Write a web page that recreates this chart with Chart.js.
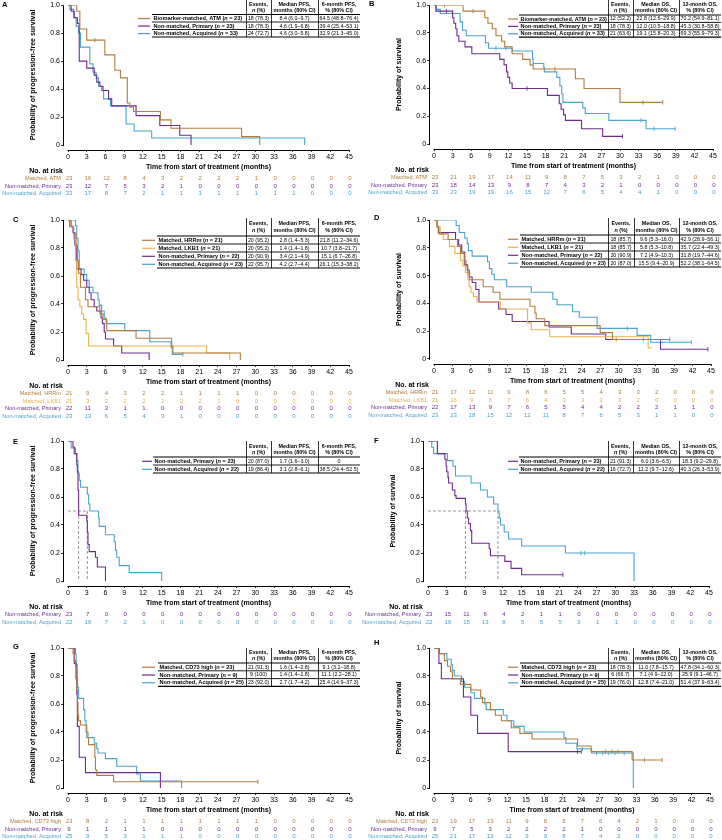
<!DOCTYPE html>
<html><head><meta charset="utf-8">
<script src="https://cdn.jsdelivr.net/npm/chart.js@4.4.1/dist/chart.umd.min.js"></script>
<style>
html,body{margin:0;padding:0;background:#fff;}
body{width:722px;height:840px;position:relative;overflow:hidden;}
canvas{position:absolute;}
</style></head><body>
<script>
const FONT = "'Liberation Sans', Arial, Helvetica, sans-serif";
const COL_MATCH = '#b07d3e';
const COL_LKB1 = '#e9b24c';
const COL_PRI = '#6b2c8f';
const COL_ACQ = '#4aa3cb';
const COL_MED = '#8a8a8a';

const monthTicks = [0,3,6,9,12,15,18,21,24,27,30,33,36,39,42,45];
const probTicks = [0,0.2,0.4,0.6,0.8,1.0];

// ---------- Panel A (PFS, ATM) ----------
const A_atm_t = [0,1.4,1.9,3.0,5.9,7.5,8.4,9.5,9.9,10.5,14.8,16.5,27.8,30.7];
const A_atm_s = [1,0.957,0.83,0.75,0.645,0.535,0.48,0.30,0.27,0.24,0.18,0.12,0.06,0];
const A_atm_cens = [4.3];
const A_pri_t = [0,0.5,1.0,1.5,1.8,3.0,4.2,4.6,5.1,5.6,6.5,7.0,10.9,14.7,17.9,19.7];
const A_pri_s = [1,0.957,0.91,0.87,0.60,0.55,0.50,0.45,0.42,0.39,0.33,0.28,0.21,0.14,0.07,0];
const A_acq_t = [0,0.3,0.9,1.3,1.7,2.0,3.5,4.0,4.5,4.9,5.4,5.7,6.8,9.3,10.6,13.4,37.9];
const A_acq_s = [1,0.97,0.91,0.85,0.80,0.70,0.58,0.52,0.48,0.42,0.39,0.33,0.28,0.15,0.10,0.05,0];
const A_names = ['Biomarker-matched, ATM','Non-matched, Primary','Non-matched, Acquired'];
const A_n = [23,23,33];
const A_events = ['18 (78.3)','18 (78.3)','24 (72.7)'];
const A_medTxt = ['8.4 (6.0\u20139.7)','4.6 (1.9\u20136.8)','4.6 (3.0\u20135.8)'];
const A_rateTxt = ['64.5 (48.8\u201376.4)','39.4 (25.4\u201353.1)','32.9 (21.3\u201345.0)'];
const A_riskLabels = ['Matched, ATM','Non-matched, Primary','Non-matched, Acquired'];
const A_risk_atm = [23,16,12,8,4,3,2,2,2,2,1,0,0,0,0,0];
const A_risk_pri = [23,12,7,5,3,2,1,0,0,0,0,0,0,0,0,0];
const A_risk_acq = [33,17,8,7,2,1,1,1,1,1,1,1,1,0,0,0];

// ---------- Panel B (OS, ATM) ----------
const B_atm_t = [0,4.7,8.2,8.7,9.4,10.0,10.9,11.4,12.6,14.3,15.5,16.0,22.8,24.2,30.0,36.9];
const B_atm_s = [1,0.957,0.91,0.87,0.83,0.78,0.74,0.70,0.65,0.61,0.57,0.54,0.47,0.40,0.30,0.30];
const B_atm_cens = [1.7,6.3,19.5,33.7,36.9];
const B_pri_t = [0,0.3,3.0,3.2,3.5,3.7,4.0,5.0,6.1,10.6,11.3,11.7,11.9,12.2,12.6,18.3,20.2,20.5,20.9,21.2,23.8,27.2,30.4];
const B_pri_s = [1,0.957,0.91,0.87,0.83,0.78,0.74,0.70,0.65,0.61,0.57,0.52,0.48,0.44,0.40,0.35,0.29,0.25,0.21,0.17,0.11,0.055,0.055];
const B_pri_cens = [2.0,15.0,30.4];
const B_acq_t = [0,0.4,1.0,4.2,4.6,5.2,8.3,8.8,12.6,15.9,16.0,17.7,17.8,19.8,20.3,20.6,20.8,24.0,24.4,28.2,34.2,38.9];
const B_acq_s = [1,0.97,0.94,0.88,0.82,0.78,0.73,0.69,0.67,0.61,0.58,0.55,0.52,0.48,0.42,0.36,0.30,0.26,0.22,0.17,0.11,0.11];
const B_acq_cens = [10.0,11.6,33.4,35.5,38.9];
const B_names = A_names;
const B_n = [23,23,33];
const B_events = ['12 (52.2)','18 (78.3)','21 (63.6)'];
const B_medTxt = ['22.8 (12.6\u201329.9)','12.0 (10.5\u201318.8)','19.1 (15.8\u201320.3)'];
const B_rateTxt = ['70.2 (54.9\u201381.1)','45.3 (30.8\u201358.8)','69.3 (55.9\u201379.3)'];
const B_riskLabels = A_riskLabels;
const B_risk_atm = [23,21,19,17,14,11,9,8,7,5,3,2,1,0,0,0];
const B_risk_pri = [23,18,14,13,9,8,7,4,3,2,1,0,0,0,0,0];
const B_risk_acq = [33,23,19,19,16,15,12,7,6,5,4,4,1,0,0,0];

// ---------- Panel C (PFS, HRRm / LKB1) ----------
const C_hrr_t = [0,0.5,0.9,1.3,1.5,1.7,2.0,2.8,3.2,5.1,5.6,6.2,10.9,16.6,16.8,27.6];
const C_hrr_s = [1,0.95,0.90,0.81,0.71,0.62,0.52,0.43,0.38,0.33,0.29,0.21,0.155,0.10,0.05,0];
const C_lkb_t = [0,0.5,0.9,1.2,1.4,1.6,1.9,2.2,2.5,2.9,3.3,22.2,25.9];
const C_lkb_s = [1,0.95,0.86,0.71,0.52,0.43,0.38,0.33,0.29,0.19,0.10,0.05,0];
const C_pri_t = [0,0.3,0.8,1.1,1.4,2.1,2.5,3.0,3.4,3.7,4.2,4.6,5.3,5.5,5.8,6.0,7.3,8.6,13.0];
const C_pri_s = [1,0.955,0.91,0.82,0.65,0.61,0.57,0.52,0.48,0.43,0.38,0.35,0.30,0.26,0.20,0.15,0.10,0.05,0];
const C_acq_t = [0,1.2,1.4,1.6,1.8,2.6,3.0,3.4,4.0,4.8,5.0,5.4,5.8,6.1,9.1,13.1,16.5,16.7,18.4];
const C_acq_s = [1,0.96,0.87,0.78,0.65,0.61,0.57,0.52,0.48,0.43,0.39,0.35,0.30,0.26,0.21,0.13,0.09,0.04,0.04];
const C_acq_cens = [18.4];
const C_names = ['Matched, HRRm','Matched, LKB1','Non-matched, Primary','Non-matched, Acquired'];
const C_n = [21,21,22,23];
const C_events = ['20 (95.2)','20 (95.2)','20 (90.9)','22 (95.7)'];
const C_medTxt = ['2.8 (1.4\u20135.3)','1.4 (1.4\u20131.8)','3.4 (2.1\u20134.9)','4.2 (2.7\u20134.4)'];
const C_rateTxt = ['21.8 (11.2\u201334.6)','10.7 (3.8\u201321.7)','15.1 (6.7\u201326.8)','26.1 (15.3\u201338.2)'];
const C_riskLabels = ['Matched, HRRm','Matched, LKB1','Non-matched, Primary','Non-matched, Acquired'];
const C_risk_hrr = [21,9,4,3,2,2,1,1,1,1,0,0,0,0,0,0];
const C_risk_lkb = [21,3,2,2,2,2,2,2,1,0,0,0,0,0,0,0];
const C_risk_pri = [22,11,3,1,1,0,0,0,0,0,0,0,0,0,0,0];
const C_risk_acq = [23,13,6,5,4,3,1,0,0,0,0,0,0,0,0,0];

// ---------- Panel D (OS, HRRm / LKB1) ----------
const D_hrr_t = [0,0.5,0.8,2.3,3.8,4.3,4.9,5.2,5.5,5.8,8.0,9.6,10.7,15.6,16.4,16.6,18.0,27.0,29.0,38.3];
const D_hrr_s = [1,0.95,0.90,0.86,0.81,0.76,0.71,0.67,0.62,0.57,0.52,0.48,0.43,0.38,0.33,0.29,0.24,0.19,0.14,0.14];
const D_hrr_cens = [29.6,34.0,38.3];
const D_lkb_t = [0,0.5,1.0,1.5,2.5,3.4,4.3,4.7,5.1,5.5,5.7,6.0,6.4,7.0,10.8,15.2,15.8,18.8,34.8,35.3];
const D_lkb_s = [1,0.95,0.90,0.86,0.81,0.76,0.71,0.67,0.62,0.57,0.52,0.48,0.45,0.41,0.36,0.26,0.21,0.16,0.08,0.08];
const D_pri_t = [0,0.5,0.7,3.5,4.0,4.5,5.0,5.4,5.7,6.2,6.8,7.3,10.5,11.7,12.7,18.7,22.3,27.9,36.8,44.5];
const D_pri_s = [1,0.955,0.91,0.86,0.82,0.77,0.68,0.64,0.59,0.55,0.50,0.41,0.36,0.32,0.27,0.23,0.18,0.14,0.07,0.07];
const D_pri_cens = [44.5];
const D_acq_t = [0,3.6,4.1,5.0,5.4,5.6,6.2,8.7,9.0,9.4,9.8,11.8,15.8,19.3,20.0,22.5,23.6,26.5,33.0,35.2,41.8];
const D_acq_s = [1,0.96,0.91,0.87,0.83,0.78,0.74,0.70,0.65,0.61,0.57,0.52,0.48,0.43,0.39,0.34,0.30,0.22,0.17,0.12,0.12];
const D_acq_cens = [31.4,41.8];
const D_names = C_names;
const D_n = [21,21,22,23];
const D_events = ['18 (85.7)','18 (85.7)','20 (90.9)','20 (87.0)'];
const D_medTxt = ['9.6 (5.3\u201316.0)','5.8 (5.3\u201310.8)','7.2 (4.9\u201310.3)','15.5 (9.4\u201320.9)'];
const D_rateTxt = ['42.9 (28.9\u201356.1)','35.7 (22.4\u201349.3)','31.8 (19.7\u201344.6)','52.2 (38.1\u201364.5)'];
const D_riskLabels = C_riskLabels;
const D_risk_hrr = [21,17,12,11,9,8,6,5,5,4,3,3,2,0,0,0];
const D_risk_lkb = [21,16,9,8,7,6,4,3,3,3,3,2,0,0,0,0];
const D_risk_pri = [22,17,13,9,7,6,5,5,4,4,2,2,2,1,1,0];
const D_risk_acq = [23,23,18,15,12,12,11,8,7,6,5,3,1,1,0,0];

// ---------- Panel E (PFS, non-matched) ----------
const E_pri_t = [0,0.8,1.0,1.4,1.5,1.6,1.7,3.0,3.1,3.2,3.4,4.4,4.7,6.0];
const E_pri_s = [1,0.957,0.91,0.83,0.78,0.65,0.47,0.43,0.35,0.26,0.21,0.17,0.10,0];
const E_acq_t = [0,0.5,1.2,1.4,1.6,1.8,2.0,3.1,3.3,3.5,4.9,5.0,6.0,7.4,7.6,7.8,8.2,9.8,15.0];
const E_acq_s = [1,0.95,0.91,0.86,0.77,0.72,0.67,0.62,0.55,0.50,0.45,0.39,0.33,0.28,0.22,0.17,0.11,0.06,0];
const E_medians = [1.7,3.1];
const E_names = ['Non-matched, Primary','Non-matched, Acquired'];
const E_n = [23,22];
const E_events = ['20 (87.0)','19 (86.4)'];
const E_medTxt = ['1.7 (1.6\u20133.0)','3.1 (2.8\u20136.1)'];
const E_rateTxt = ['0','38.5 (24.4\u201352.5)'];
const E_riskLabels = ['Non-matched, Primary','Non-matched, Acquired'];
const E_risk_pri = [23,7,0,0,0,0,0,0,0,0,0,0,0,0,0,0];
const E_risk_acq = [22,19,7,2,1,0,0,0,0,0,0,0,0,0,0,0];

// ---------- Panel F (OS, non-matched) ----------
const F_pri_t = [0,1.5,2.7,2.9,3.0,3.2,3.3,3.9,4.3,4.5,6.0,6.1,6.3,6.5,6.8,7.0,9.8,10.0,12.3,13.3,15.0,21.6];
const F_pri_s = [1,0.91,0.87,0.82,0.78,0.74,0.70,0.65,0.61,0.59,0.55,0.50,0.45,0.41,0.36,0.27,0.23,0.18,0.14,0.09,0.045,0.045];
const F_pri_cens = [21.6];
const F_acq_t = [0,0.6,0.9,3.1,4.0,4.4,6.9,8.4,9.5,10.5,11.2,11.4,11.6,12.2,12.9,15.0,22.0,33.0];
const F_acq_s = [1,0.955,0.91,0.86,0.82,0.75,0.70,0.65,0.60,0.55,0.50,0.45,0.40,0.35,0.30,0.25,0.20,0];
const F_acq_cens = [24.5,25.1];
const F_medians = [6.0,11.2];
const F_names = E_names;
const F_n = [23,22];
const F_events = ['21 (91.3)','16 (72.7)'];
const F_medTxt = ['6.0 (3.6\u20136.5)','11.2 (9.7\u201312.6)'];
const F_rateTxt = ['18.3 (9.2\u201329.8)','40.3 (26.3\u201353.9)'];
const F_riskLabels = E_riskLabels;
const F_risk_pri = [23,15,11,6,4,2,1,1,0,0,0,0,0,0,0,0];
const F_risk_acq = [22,19,15,13,8,5,5,5,3,1,1,0,0,0,0,0];

// ---------- Panel G (PFS, CD73 high) ----------
const G_cd_t = [0,0.8,1.0,1.2,1.3,1.4,1.5,1.6,1.7,2.0,3.0,3.2,3.3,4.3,4.4,4.6,7.3,30.4];
const G_cd_s = [1,0.96,0.91,0.87,0.78,0.70,0.61,0.52,0.48,0.45,0.40,0.36,0.31,0.22,0.13,0.09,0.045,0.045];
const G_cd_cens = [30.4];
const G_pri_t = [0,1.0,1.3,1.4,1.5,1.8,2.8,14.8];
const G_pri_s = [1,0.89,0.78,0.67,0.44,0.22,0.11,0];
const G_acq_t = [0,1.2,1.3,1.5,1.7,2.5,2.7,2.9,3.0,4.2,4.6,4.8,6.0,7.8,11.0,11.6,18.2];
const G_acq_s = [1,0.96,0.88,0.72,0.64,0.56,0.48,0.40,0.36,0.32,0.28,0.25,0.21,0.155,0.10,0.05,0];
const G_names = ['Matched, CD73 high','Non-matched, Primary','Non-matched, Acquired'];
const G_n = [23,9,25];
const G_events = ['21 (91.3)','9 (100)','23 (92.0)'];
const G_medTxt = ['1.6 (1.4\u20132.8)','1.4 (1.4\u20131.8)','2.7 (1.7\u20134.2)'];
const G_rateTxt = ['9.1 (3.2\u201318.8)','11.1 (2.2\u201328.1)','25.4 (14.9\u201337.3)'];
const G_riskLabels = ['Matched, CD73 high','Non-matched, Primary','Non-matched, Acquired'];
const G_risk_cd = [23,8,2,1,1,1,1,1,1,1,1,0,0,0,0,0];
const G_risk_pri = [9,1,1,1,1,0,0,0,0,0,0,0,0,0,0,0];
const G_risk_acq = [25,9,5,3,1,1,1,0,0,0,0,0,0,0,0,0];

// ---------- Panel H (OS, CD73 high) ----------
const H_cd_t = [0,0.8,1.7,2.2,2.7,3.0,4.3,6.0,7.6,7.9,9.2,10.0,11.0,12.6,14.0,16.0,23.4,25.6,32.3,37.2];
const H_cd_s = [1,0.96,0.91,0.87,0.83,0.78,0.74,0.70,0.65,0.61,0.56,0.52,0.48,0.43,0.39,0.35,0.30,0.26,0.20,0.20];
const H_cd_cens = [28.0,29.0,30.0,34.3,37.2];
const H_pri_t = [0,0.8,1.2,4.8,6.0,7.1,12.1,24.0];
const H_pri_s = [1,0.89,0.78,0.65,0.52,0.39,0.26,0.26];
const H_pri_cens = [23.4,24.0];
const H_acq_t = [0,0.9,2.1,2.8,3.0,3.3,4.5,5.0,6.0,6.6,8.3,8.5,11.3,11.9,13.0,14.7,21.2,21.5,23.3,25.7,32.5];
const H_acq_s = [1,0.96,0.92,0.88,0.84,0.80,0.76,0.72,0.68,0.64,0.60,0.56,0.52,0.48,0.44,0.40,0.36,0.32,0.28,0.25,0];
const H_acq_cens = [24.2,26.5,27.5,28.5,29.5,31.0];
const H_names = G_names;
const H_n = [23,9,25];
const H_events = ['18 (78.3)','6 (66.7)','19 (76.0)'];
const H_medTxt = ['11.0 (7.8\u201315.7)','7.1 (4.9\u201312.0)','12.8 (7.4\u201321.0)'];
const H_rateTxt = ['47.8 (34.1\u201360.3)','25.9 (9.1\u201346.7)','51.4 (37.9\u201363.4)'];
const H_riskLabels = G_riskLabels;
const H_risk_cd = [23,19,17,13,11,9,8,8,7,6,4,2,1,0,0,0];
const H_risk_pri = [9,7,5,3,2,2,2,2,1,0,0,0,0,0,0,0];
const H_risk_acq = [25,21,17,13,12,9,9,8,7,4,2,0,0,0,0,0];

// ---------- Layout (positions only) ----------
const LAYOUT = {
  A:{left:0,   top:0,   h:205, x0:68, x45:349, y1:5,  y0:145, letter:[2,5],  tb:{sw:[138,150], lab:152, c:[246,271,318,360], top:0,  head:14.5, row:7.5}},
  B:{left:361, top:0,   h:205, x0:73, x45:352, y1:5,  y0:144, letter:[8,4],  tb:{sw:[147,157], lab:158, c:[247,272,318,360], top:0,  head:15,   row:7.4}},
  C:{left:0,   top:205, h:215, x0:68, x45:349, y1:15, y0:155, letter:[13,15],tb:{sw:[142,155], lab:157, c:[246,271,318,360], top:13, head:18,   row:8}},
  D:{left:361, top:205, h:215, x0:73, x45:350, y1:15, y0:154, letter:[13,13],tb:{sw:[147,157], lab:159, c:[247,273,318,360], top:13, head:17,   row:8}},
  E:{left:0,   top:420, h:205, x0:68, x45:349, y1:21, y0:161, letter:[13,22],tb:{sw:[142,152], lab:153, c:[246,271,318,360], top:21, head:16,   row:8}},
  F:{left:361, top:420, h:205, x0:67, x45:348, y1:21, y0:161, letter:[13,21],tb:{sw:[147,157], lab:158, c:[247,272,318,360], top:21, head:16,   row:8}},
  G:{left:0,   top:625, h:215, x0:68, x45:349, y1:23, y0:163, letter:[13,22],tb:{sw:[142,155], lab:158, c:[246,271,318,360], top:23, head:15,   row:7.8}},
  H:{left:361, top:625, h:215, x0:73, x45:349, y1:23, y0:163, letter:[13,18],tb:{sw:[147,157], lab:159, c:[247,272,318,360], top:23, head:15,   row:7.8}}
};

const PFS_HEAD = [['Median PFS,','months (80% CI)'],['6-month PFS,','% (80% CI)']];
const OS_HEAD = [['Median OS,','months (80% CI)'],['12-month OS,','% (80% CI)']];
const Y_PFS = 'Probability of progression-free survival';
const Y_OS = 'Probability of survival';

function ser(t, s, cens, color){ return {t:t, s:s, cens:cens, color:color}; }

const PANELS = [
  {id:'A', yTitle:Y_PFS, head:PFS_HEAD, series:[ser(A_atm_t,A_atm_s,A_atm_cens,COL_MATCH),ser(A_pri_t,A_pri_s,[],COL_PRI),ser(A_acq_t,A_acq_s,[],COL_ACQ)],
   names:A_names, ns:A_n, events:A_events, med:A_medTxt, rate:A_rateTxt, riskLabels:A_riskLabels, risk:[A_risk_atm,A_risk_pri,A_risk_acq], medians:null},
  {id:'B', yTitle:Y_OS, head:OS_HEAD, series:[ser(B_atm_t,B_atm_s,B_atm_cens,COL_MATCH),ser(B_pri_t,B_pri_s,B_pri_cens,COL_PRI),ser(B_acq_t,B_acq_s,B_acq_cens,COL_ACQ)],
   names:B_names, ns:B_n, events:B_events, med:B_medTxt, rate:B_rateTxt, riskLabels:B_riskLabels, risk:[B_risk_atm,B_risk_pri,B_risk_acq], medians:null},
  {id:'C', yTitle:Y_PFS, head:PFS_HEAD, series:[ser(C_hrr_t,C_hrr_s,[],COL_MATCH),ser(C_lkb_t,C_lkb_s,[],COL_LKB1),ser(C_pri_t,C_pri_s,[],COL_PRI),ser(C_acq_t,C_acq_s,C_acq_cens,COL_ACQ)],
   names:C_names, ns:C_n, events:C_events, med:C_medTxt, rate:C_rateTxt, riskLabels:C_riskLabels, risk:[C_risk_hrr,C_risk_lkb,C_risk_pri,C_risk_acq], medians:null},
  {id:'D', yTitle:Y_OS, head:OS_HEAD, series:[ser(D_hrr_t,D_hrr_s,D_hrr_cens,COL_MATCH),ser(D_lkb_t,D_lkb_s,[],COL_LKB1),ser(D_pri_t,D_pri_s,D_pri_cens,COL_PRI),ser(D_acq_t,D_acq_s,D_acq_cens,COL_ACQ)],
   names:D_names, ns:D_n, events:D_events, med:D_medTxt, rate:D_rateTxt, riskLabels:D_riskLabels, risk:[D_risk_hrr,D_risk_lkb,D_risk_pri,D_risk_acq], medians:null},
  {id:'E', yTitle:Y_PFS, head:PFS_HEAD, series:[ser(E_pri_t,E_pri_s,[],COL_PRI),ser(E_acq_t,E_acq_s,[],COL_ACQ)],
   names:E_names, ns:E_n, events:E_events, med:E_medTxt, rate:E_rateTxt, riskLabels:E_riskLabels, risk:[E_risk_pri,E_risk_acq], medians:E_medians},
  {id:'F', yTitle:Y_OS, head:OS_HEAD, series:[ser(F_pri_t,F_pri_s,F_pri_cens,COL_PRI),ser(F_acq_t,F_acq_s,F_acq_cens,COL_ACQ)],
   names:F_names, ns:F_n, events:F_events, med:F_medTxt, rate:F_rateTxt, riskLabels:F_riskLabels, risk:[F_risk_pri,F_risk_acq], medians:F_medians},
  {id:'G', yTitle:Y_PFS, head:PFS_HEAD, series:[ser(G_cd_t,G_cd_s,G_cd_cens,COL_MATCH),ser(G_pri_t,G_pri_s,[],COL_PRI),ser(G_acq_t,G_acq_s,[],COL_ACQ)],
   names:G_names, ns:G_n, events:G_events, med:G_medTxt, rate:G_rateTxt, riskLabels:G_riskLabels, risk:[G_risk_cd,G_risk_pri,G_risk_acq], medians:null},
  {id:'H', yTitle:Y_OS, head:OS_HEAD, series:[ser(H_cd_t,H_cd_s,H_cd_cens,COL_MATCH),ser(H_pri_t,H_pri_s,H_pri_cens,COL_PRI),ser(H_acq_t,H_acq_s,H_acq_cens,COL_ACQ)],
   names:H_names, ns:H_n, events:H_events, med:H_medTxt, rate:H_rateTxt, riskLabels:H_riskLabels, risk:[H_risk_cd,H_risk_pri,H_risk_acq], medians:null}
];

function stepY(t, s, c){ let v = s[0]; for (let i=0;i<t.length;i++){ if (t[i] <= c) v = s[i]; } return v; }

function richWidth(ctx, segs){ let w=0; segs.forEach(g=>{ ctx.font=g.f; w+=ctx.measureText(g.t).width; }); return w; }
function drawRich(ctx, segs, x, y, align){
  const w = richWidth(ctx, segs);
  let cx = align==='center' ? x - w/2 : (align==='right' ? x - w : x);
  ctx.textAlign = 'left';
  segs.forEach(g=>{ ctx.font=g.f; ctx.fillText(g.t, cx, y); cx += ctx.measureText(g.t).width; });
}
function hline(ctx, x1, x2, y, w){ ctx.lineWidth=w; ctx.beginPath(); ctx.moveTo(x1,y); ctx.lineTo(x2,y); ctx.stroke(); }
function vline(ctx, x, y1, y2, w){ ctx.lineWidth=w; ctx.beginPath(); ctx.moveTo(x,y1); ctx.lineTo(x,y2); ctx.stroke(); }

function panelPlugin(p, L){
  return { id:'panel'+p.id, afterDraw(chart){
    const ctx = chart.ctx, xs = chart.scales.x, ys = chart.scales.y, ca = chart.chartArea;
    ctx.save();
    ctx.strokeStyle = '#000';
    // axis lines (detached style)
    const ax = Math.round(ca.left) + 0.5;
    vline(ctx, ax, ys.getPixelForValue(1), ys.getPixelForValue(0) + 1, 1);
    const ay = Math.round(ca.bottom) + 0.5;
    hline(ctx, xs.getPixelForValue(0) - 0.5, xs.getPixelForValue(45) + 0.5, ay, 1);

    ctx.textBaseline = 'middle';
    ctx.fillStyle = '#000';
    // panel letter
    ctx.font = 'bold 7.5px ' + FONT; ctx.textAlign = 'left';
    ctx.fillText(p.id, L.letter[0], L.letter[1]);
    // y title
    ctx.save();
    ctx.translate(L.x0 - 35, (L.y1 + L.y0) / 2);
    ctx.rotate(-Math.PI/2);
    ctx.font = 'bold 7px ' + FONT; ctx.textAlign = 'center';
    ctx.fillText(p.yTitle, 0, 0);
    ctx.restore();
    // x title
    ctx.font = 'bold 7px ' + FONT; ctx.textAlign = 'center';
    ctx.fillText('Time from start of treatment (months)', xs.getPixelForValue(22.5), L.y0 + 22);

    // risk table
    ctx.font = 'bold 7px ' + FONT; ctx.textAlign = 'right';
    ctx.fillText('No. at risk', L.x0 - 5, L.y0 + 26);
    p.series.forEach((s, i) => {
      const y = L.y0 + 33.8 + i * 7.4;
      ctx.fillStyle = s.color;
      ctx.font = '5.6px ' + FONT; ctx.textAlign = 'right';
      ctx.fillText(p.riskLabels[i], L.x0 - 7, y);
      ctx.font = '6px ' + FONT;
      ctx.textAlign = 'center';
      p.risk[i].forEach((v, j) => ctx.fillText(String(v), xs.getPixelForValue(monthTicks[j]) + 1, y));
    });

    // inset table
    const T = L.tb;
    const nR = p.names.length;
    const bodyTop = T.top + T.head;
    const bottom = bodyTop + nR * T.row;
    ctx.strokeStyle = '#000';
    [T.c[0], T.c[1], T.c[2]].forEach(x => vline(ctx, x + 0.5, T.top, bottom, 0.8));
    for (let i = 0; i <= nR; i++) {
      const y = bodyTop + i * T.row;
      hline(ctx, T.lab, T.c[3], y, (i === 0 || i === nR) ? 1.2 : 0.9);
    }
    ctx.fillStyle = '#000';
    const hf = 'bold 5.4px ' + FONT, hfi = 'italic bold 5.4px ' + FONT;
    const l1 = T.top + T.head * 0.32, l2 = T.top + T.head * 0.72;
    const cc = [(T.c[0]+T.c[1])/2, (T.c[1]+T.c[2])/2, (T.c[2]+T.c[3])/2];
    drawRich(ctx, [{t:'Events,', f:hf}], cc[0], l1, 'center');
    drawRich(ctx, [{t:'n', f:hfi}, {t:' (%)', f:hf}], cc[0], l2, 'center');
    drawRich(ctx, [{t:p.head[0][0], f:hf}], cc[1], l1, 'center');
    drawRich(ctx, [{t:p.head[0][1], f:hf}], cc[1], l2, 'center');
    drawRich(ctx, [{t:p.head[1][0], f:hf}], cc[2], l1, 'center');
    drawRich(ctx, [{t:p.head[1][1], f:hf}], cc[2], l2, 'center');
    for (let i = 0; i < nR; i++) {
      const y = bodyTop + (i + 0.5) * T.row + 0.3;
      ctx.strokeStyle = p.series[i].color;
      hline(ctx, T.sw[0], T.sw[1], y, 1.2);
      ctx.strokeStyle = '#000';
      ctx.fillStyle = '#000';
      let fs = 5.6;
      const mk = f => [{t:p.names[i] + ' (', f:'bold '+f+'px '+FONT}, {t:'n', f:'italic bold '+f+'px '+FONT}, {t:' = ' + p.ns[i] + ')', f:'bold '+f+'px '+FONT}];
      const avail = T.c[0] - T.lab - 2.5;
      const w = richWidth(ctx, mk(fs));
      if (w > avail) fs = fs * avail / w;
      drawRich(ctx, mk(fs), T.lab + 1.5, y, 'left');
      const vf = '5.3px ' + FONT;
      drawRich(ctx, [{t:p.events[i], f:vf}], cc[0], y, 'center');
      drawRich(ctx, [{t:p.med[i], f:vf}], cc[1], y, 'center');
      drawRich(ctx, [{t:p.rate[i], f:vf}], cc[2], y, 'center');
    }
    ctx.restore();
  }};
}

Chart.defaults.font.family = FONT;

PANELS.forEach(p => {
  const L = LAYOUT[p.id];
  const cv = document.createElement('canvas');
  cv.width = 361; cv.height = L.h;
  cv.style.left = L.left + 'px'; cv.style.top = L.top + 'px';
  cv.style.width = '361px'; cv.style.height = L.h + 'px';
  document.body.appendChild(cv);

  const ppm = (L.x45 - L.x0) / 45;
  const XMIN = -0.8, XMAX = 45.6, YMIN = -0.036, YMAX = 1.0;
  const left = L.x0 + XMIN * ppm, right = L.x0 + XMAX * ppm;
  const ppu = L.y0 - L.y1;
  const top = L.y1, bottom = L.y0 - YMIN * ppu;
  const XH = 10;

  const datasets = [];
  p.series.forEach(s => {
    datasets.push({ type:'line', data: s.t.map((t, i) => ({x:t, y:s.s[i]})), borderColor:s.color, backgroundColor:s.color,
      borderWidth:1.1, stepped:true, pointRadius:0, fill:false });
    if (s.cens.length) datasets.push({ type:'scatter', data: s.cens.map(c => ({x:c, y:stepY(s.t, s.s, c)})),
      pointStyle:'line', rotation:90, radius:2.2, borderColor:s.color, backgroundColor:s.color, borderWidth:0.9, pointRadius:2.2 });
  });
  if (p.medians) {
    const mMax = Math.max.apply(null, p.medians);
    datasets.push({ type:'line', data:[{x:0, y:0.5}, {x:mMax, y:0.5}], borderColor:COL_MED, borderWidth:0.9, borderDash:[3,2], pointRadius:0, fill:false });
    p.medians.forEach(m => datasets.push({ type:'line', data:[{x:m, y:0.5}, {x:m, y:0}], borderColor:COL_MED, borderWidth:0.9, borderDash:[3,2], pointRadius:0, fill:false }));
  }

  new Chart(cv, {
    type:'line',
    data:{ datasets: datasets },
    options:{
      responsive:false, animation:false, devicePixelRatio:1,
      layout:{ padding:{ left:0, top:top, right:361 - right, bottom:L.h - bottom - XH } },
      plugins:{ legend:{display:false}, tooltip:{enabled:false} },
      elements:{ line:{ tension:0 } },
      scales:{
        x:{ type:'linear', min:XMIN, max:XMAX,
          afterFit: sc => { sc.height = XH; },
          afterBuildTicks: sc => { sc.ticks = monthTicks.map(v => ({value:v})); },
          grid:{ drawOnChartArea:false, drawTicks:true, tickLength:2, color:'#000', lineWidth:0.8 },
          border:{ display:false },
          ticks:{ font:{family:FONT, size:7}, color:'#000', padding:1, maxRotation:0, autoSkip:false, callback: v => String(v) } },
        y:{ type:'linear', min:YMIN, max:YMAX,
          afterFit: sc => { sc.width = left; },
          afterBuildTicks: sc => { sc.ticks = probTicks.map(v => ({value:v})); },
          grid:{ drawOnChartArea:false, drawTicks:true, tickLength:2, color:'#000', lineWidth:0.8 },
          border:{ display:false },
          ticks:{ font:{family:FONT, size:7}, color:'#000', padding:1, autoSkip:false, callback: v => (v === 0 ? '0' : v.toFixed(1)) } }
      }
    },
    plugins:[panelPlugin(p, L)]
  });
});
</script>
</body></html>
